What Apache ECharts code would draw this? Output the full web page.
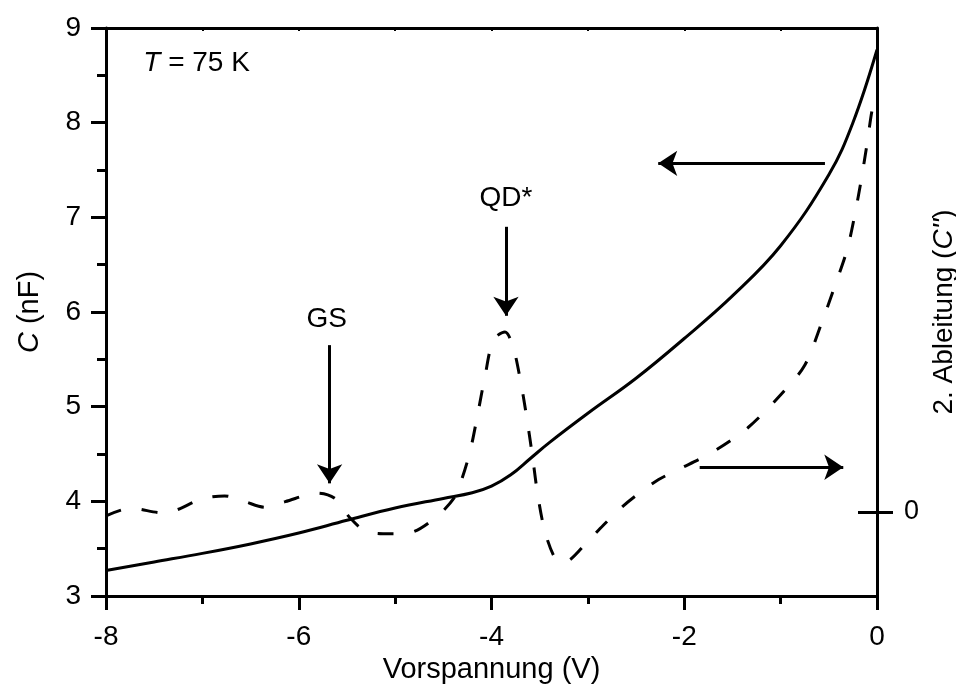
<!DOCTYPE html>
<html>
<head>
<meta charset="utf-8">
<style>
  html, body { margin: 0; padding: 0; background: #fff; }
  #chart { width: 956px; height: 684px; }
</style>
<script src="https://cdn.jsdelivr.net/npm/echarts@6/dist/echarts.min.js"></script>
</head>
<body>
<div id="chart"></div>
<script>
// Kapazität C (nF) über Vorspannung (V)
const capBias = [-8, -7.5, -7, -6.5, -6, -5.5, -5, -4.5, -4.2, -4, -3.8, -3.6, -3.4, -3, -2.5, -2, -1.5, -1, -0.5, -0.25, 0];
const capValues = [3.27, 3.36, 3.45, 3.55, 3.665, 3.80, 3.93, 4.03, 4.09, 4.16, 4.28, 4.45, 4.62, 4.93, 5.30, 5.72, 6.17, 6.70, 7.45, 8.00, 8.77];

// 2. Ableitung C'' (willkürliche Einheiten)
const derivBias = [-8, -7.75, -7.4, -7.0, -6.77, -6.56, -6.35, -6.14, -5.8, -5.62, -5.47, -5.29, -5.05, -4.85, -4.57,
  -4.38, -4.31, -4.22, -4.14, -4.07, -3.98, -3.86, -3.78, -3.70, -3.63, -3.57, -3.52, -3.45, -3.36, -3.29, -3.21,
  -3.01, -2.84, -2.65, -2.48, -2.27, -2.08, -1.71, -1.34, -0.98, -0.75, -0.57, -0.44, -0.31, -0.23, -0.16, -0.10, -0.05, 0];
const derivValues = [-0.04, 0.04, -0.01, 0.14, 0.17, 0.11, 0.05, 0.11, 0.20, 0.14, -0.06, -0.21, -0.23, -0.22, -0.05,
  0.16, 0.34, 0.65, 1.05, 1.42, 1.82, 1.90, 1.76, 1.39, 0.97, 0.55, 0.18, -0.19, -0.45, -0.53, -0.52,
  -0.32, -0.14, 0.05, 0.19, 0.34, 0.44, 0.63, 0.89, 1.26, 1.55, 2.01, 2.38, 2.77, 3.14, 3.53, 3.91, 4.25, 4.44];

// Achsen
const xTicks = [-8, -6, -4, -2, 0];
const yTicks = [3, 4, 5, 6, 7, 8, 9];
const derivTicks = [0];

// Beschriftungen (Position in Datenkoordinaten)
const annotations = [
  { text: '{i|T} = 75 K', at: [-7.06, 8.63] },
  { text: 'GS', at: [-5.71, 5.92] },
  { text: 'QD*', at: [-3.85, 7.20] }
];
// Pfeile: [start, ende]
const arrows = [
  [[-5.68, 5.65], [-5.68, 4.19]],
  [[-3.85, 6.90], [-3.85, 5.96]],
  [[-0.54, 7.57], [-2.27, 7.57]],
  [[-1.84, 4.36], [-0.35, 4.36]]
];

const font = 'Liberation Sans, Arial, sans-serif';
const black = '#000';
const italic = { fontStyle: 'italic', fontFamily: font, color: black };

const chart = echarts.init(document.getElementById('chart'));

const option = {
  animation: false,
  backgroundColor: '#fff',
  textStyle: { fontFamily: font, color: black },
  grid: { left: 106, right: 79, top: 28, bottom: 88, outerBoundsMode: 'none', containLabel: false },
  xAxis: [
    {
      type: 'value',
      min: xTicks[0],
      max: xTicks[xTicks.length - 1],
      interval: 2,
      name: 'Vorspannung (V)',
      nameLocation: 'middle',
      nameGap: 56,
      nameTextStyle: { fontSize: 29, color: black, fontFamily: font },
      axisLine: { show: true, onZero: false, lineStyle: { color: black, width: 3 } },
      axisTick: { show: true, length: 14, lineStyle: { color: black, width: 3 } },
      minorTick: { show: true, splitNumber: 2, length: 8, lineStyle: { color: black, width: 3 } },
      axisLabel: { fontSize: 28, color: black, fontFamily: font, margin: 27 },
      splitLine: { show: false }
    },
    {
      type: 'value',
      position: 'top',
      min: xTicks[0],
      max: xTicks[xTicks.length - 1],
      interval: 1,
      axisLine: { show: true, onZero: false, lineStyle: { color: black, width: 3 } },
      axisTick: { show: true, inside: true, length: 3, lineStyle: { color: black, width: 2 } },
      axisLabel: { show: false },
      splitLine: { show: false }
    }
  ],
  yAxis: [
    {
      type: 'value',
      min: yTicks[0],
      max: yTicks[yTicks.length - 1],
      interval: 1,
      name: '{i|C} (nF)',
      nameLocation: 'middle',
      nameGap: 62,
      nameRotate: 90,
      nameTextStyle: {
        fontSize: 29, color: black, fontFamily: font,
        rich: { i: Object.assign({ fontSize: 29 }, italic) }
      },
      axisLine: { show: true, onZero: false, lineStyle: { color: black, width: 3 } },
      axisTick: { show: true, length: 15, lineStyle: { color: black, width: 3 } },
      minorTick: { show: true, splitNumber: 2, length: 9, lineStyle: { color: black, width: 3 } },
      axisLabel: { fontSize: 28, color: black, fontFamily: font, margin: 25 },
      splitLine: { show: false }
    },
    {
      type: 'value',
      position: 'right',
      min: -0.887,
      max: 5.112,
      name: "2. Ableitung ({i|C''})",
      nameLocation: 'middle',
      nameGap: 50,
      nameRotate: 90,
      nameTextStyle: {
        fontSize: 28, color: black, fontFamily: font,
        rich: { i: Object.assign({ fontSize: 28 }, italic) }
      },
      axisLine: { show: true, onZero: false, lineStyle: { color: black, width: 3 } },
      axisTick: { show: true, length: 16, customValues: derivTicks, lineStyle: { color: black, width: 3 } },
      axisLabel: { fontSize: 27, color: black, fontFamily: font, margin: 27, customValues: derivTicks },
      splitLine: { show: false }
    },
    {
      type: 'value',
      position: 'right',
      min: -0.887,
      max: 5.112,
      axisLine: { show: false },
      axisTick: { show: true, inside: true, length: 19, customValues: derivTicks, lineStyle: { color: black, width: 3 } },
      axisLabel: { show: false },
      splitLine: { show: false }
    }
  ],
  series: [
    {
      name: 'C',
      type: 'line',
      xAxisIndex: 0,
      yAxisIndex: 0,
      data: capBias.map((v, i) => [v, capValues[i]]),
      smooth: 0.4,
      showSymbol: false,
      lineStyle: { color: black, width: 3 },
      markLine: {
        silent: true,
        symbol: ['none', 'arrow'],
        symbolSize: 19,
        label: { show: false },
        lineStyle: { color: black, width: 3, type: 'solid' },
        data: arrows.map(a => [{ coord: a[0] }, { coord: a[1] }])
      },
      markPoint: {
        silent: true,
        symbol: 'circle',
        symbolSize: 0,
        label: {
          show: true,
          position: 'inside',
          fontSize: 28,
          color: black,
          fontFamily: font,
          rich: { i: Object.assign({ fontSize: 28 }, italic) }
        },
        data: annotations.map(a => ({ coord: a.at, label: { formatter: a.text } }))
      }
    },
    {
      name: "C''",
      type: 'line',
      xAxisIndex: 0,
      yAxisIndex: 1,
      data: derivBias.map((v, i) => [v, derivValues[i]]),
      smooth: 0.3,
      showSymbol: false,
      lineStyle: { color: black, width: 3, type: [16, 21] }
    }
  ]
};

chart.setOption(option);
window.addEventListener('resize', () => chart.resize());
</script>
</body>
</html>
